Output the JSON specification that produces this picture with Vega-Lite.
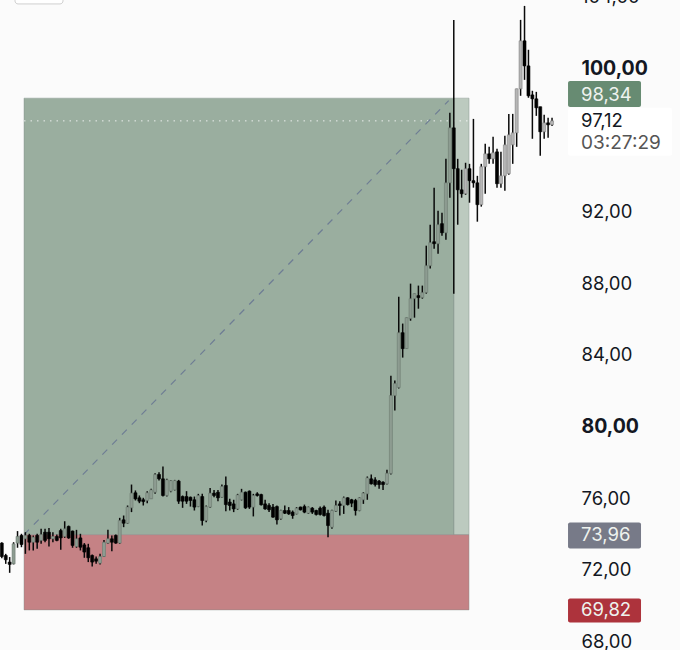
{"$schema":"https://vega.github.io/schema/vega-lite/v6.json",
"width":680,"height":650,"autosize":"none","padding":0,"background":"#fbfbfb",
"config":{"view":{"stroke":null}},
"resolve":{"scale":{"color":"independent"}},
"datasets":{"candles":[
{"i":0,"o":73.49,"h":73.54,"l":72.65,"c":72.74},
{"i":1,"o":72.80,"h":72.89,"l":72.33,"c":72.56},
{"i":2,"o":72.43,"h":72.71,"l":71.83,"c":72.30},
{"i":3,"o":72.33,"h":73.54,"l":72.30,"c":73.45},
{"i":4,"o":73.49,"h":74.16,"l":73.23,"c":73.86},
{"i":5,"o":73.92,"h":74.01,"l":73.26,"c":73.41},
{"i":6,"o":73.73,"h":74.10,"l":72.89,"c":73.92},
{"i":7,"o":73.92,"h":74.01,"l":73.08,"c":73.54},
{"i":8,"o":73.54,"h":73.92,"l":73.08,"c":73.82},
{"i":9,"o":73.92,"h":74.01,"l":73.17,"c":73.54},
{"i":10,"o":73.64,"h":74.29,"l":73.45,"c":73.97},
{"i":11,"o":74.10,"h":74.29,"l":73.54,"c":73.64},
{"i":12,"o":74.10,"h":74.34,"l":73.30,"c":73.73},
{"i":13,"o":73.73,"h":74.10,"l":73.54,"c":73.86},
{"i":14,"o":73.86,"h":73.97,"l":73.60,"c":73.64},
{"i":15,"o":74.19,"h":74.29,"l":73.12,"c":73.78},
{"i":16,"o":73.86,"h":74.71,"l":73.78,"c":74.29},
{"i":17,"o":74.42,"h":74.47,"l":73.73,"c":73.78},
{"i":18,"o":74.16,"h":74.19,"l":73.23,"c":73.36},
{"i":19,"o":73.30,"h":74.23,"l":73.23,"c":73.73},
{"i":20,"o":73.78,"h":74.01,"l":73.08,"c":73.26},
{"i":21,"o":73.39,"h":73.49,"l":72.67,"c":72.99},
{"i":22,"o":73.23,"h":73.45,"l":72.43,"c":72.67},
{"i":23,"o":72.80,"h":72.85,"l":72.19,"c":72.43},
{"i":24,"o":72.61,"h":72.74,"l":72.33,"c":72.48},
{"i":25,"o":72.37,"h":72.89,"l":72.30,"c":72.74},
{"i":26,"o":72.74,"h":73.67,"l":72.71,"c":73.54},
{"i":27,"o":73.49,"h":74.23,"l":73.45,"c":73.73},
{"i":28,"o":73.73,"h":73.92,"l":73.04,"c":73.54},
{"i":29,"o":73.92,"h":73.97,"l":73.45,"c":73.49},
{"i":30,"o":73.49,"h":74.90,"l":73.45,"c":74.75},
{"i":31,"o":74.79,"h":75.03,"l":74.38,"c":74.60},
{"i":32,"o":74.60,"h":75.59,"l":74.57,"c":75.50},
{"i":33,"o":75.46,"h":76.76,"l":75.22,"c":76.28},
{"i":34,"o":76.30,"h":76.43,"l":75.87,"c":75.96},
{"i":35,"o":76.02,"h":76.15,"l":75.72,"c":75.83},
{"i":36,"o":75.91,"h":76.02,"l":75.59,"c":75.81},
{"i":37,"o":75.87,"h":76.39,"l":75.72,"c":76.30},
{"i":38,"o":75.96,"h":76.52,"l":75.96,"c":76.46},
{"i":39,"o":76.33,"h":77.39,"l":76.24,"c":77.32},
{"i":40,"o":77.32,"h":77.45,"l":76.98,"c":77.08},
{"i":41,"o":77.08,"h":77.77,"l":76.09,"c":76.15},
{"i":42,"o":76.15,"h":77.08,"l":76.09,"c":77.02},
{"i":43,"o":76.39,"h":77.02,"l":76.33,"c":76.98},
{"i":44,"o":76.46,"h":77.02,"l":76.43,"c":76.98},
{"i":45,"o":76.95,"h":77.02,"l":75.68,"c":75.83},
{"i":46,"o":76.09,"h":76.15,"l":75.46,"c":75.83},
{"i":47,"o":76.09,"h":76.39,"l":75.68,"c":75.83},
{"i":48,"o":76.05,"h":76.09,"l":75.53,"c":75.87},
{"i":49,"o":75.91,"h":76.09,"l":75.31,"c":75.50},
{"i":50,"o":75.53,"h":76.24,"l":75.50,"c":76.15},
{"i":51,"o":76.09,"h":76.24,"l":74.47,"c":74.75},
{"i":52,"o":74.75,"h":75.59,"l":74.66,"c":75.53},
{"i":53,"o":75.50,"h":76.57,"l":75.46,"c":76.28},
{"i":54,"o":76.28,"h":76.46,"l":76.05,"c":76.15},
{"i":55,"o":76.33,"h":76.46,"l":75.83,"c":76.02},
{"i":56,"o":76.05,"h":76.76,"l":76.02,"c":76.65},
{"i":57,"o":76.71,"h":77.21,"l":75.27,"c":75.64},
{"i":58,"o":75.78,"h":75.96,"l":75.31,"c":75.59},
{"i":59,"o":75.68,"h":75.91,"l":75.22,"c":75.40},
{"i":60,"o":75.40,"h":76.24,"l":75.35,"c":76.18},
{"i":61,"o":75.91,"h":76.52,"l":75.87,"c":76.33},
{"i":62,"o":76.33,"h":76.37,"l":75.40,"c":75.46},
{"i":63,"o":76.39,"h":76.43,"l":75.40,"c":75.50},
{"i":64,"o":75.50,"h":76.24,"l":74.98,"c":76.15},
{"i":65,"o":76.24,"h":76.33,"l":76.09,"c":76.15},
{"i":66,"o":76.20,"h":76.24,"l":75.59,"c":75.63},
{"i":67,"o":75.68,"h":75.91,"l":75.35,"c":75.40},
{"i":68,"o":75.59,"h":75.72,"l":75.22,"c":75.35},
{"i":69,"o":75.50,"h":75.68,"l":74.90,"c":74.94},
{"i":70,"o":75.53,"h":75.59,"l":74.53,"c":74.79},
{"i":71,"o":74.85,"h":75.35,"l":74.79,"c":75.31},
{"i":72,"o":75.31,"h":75.59,"l":75.12,"c":75.16},
{"i":73,"o":75.31,"h":75.50,"l":75.07,"c":75.12},
{"i":74,"o":75.22,"h":75.31,"l":74.85,"c":75.03},
{"i":75,"o":75.12,"h":75.50,"l":75.09,"c":75.44},
{"i":76,"o":75.50,"h":75.53,"l":75.31,"c":75.35},
{"i":77,"o":75.53,"h":75.64,"l":75.16,"c":75.22},
{"i":78,"o":75.16,"h":75.53,"l":75.12,"c":75.50},
{"i":79,"o":75.44,"h":75.50,"l":75.12,"c":75.22},
{"i":80,"o":75.31,"h":75.35,"l":75.03,"c":75.09},
{"i":81,"o":75.44,"h":75.53,"l":75.03,"c":75.09},
{"i":82,"o":75.50,"h":75.59,"l":74.98,"c":75.03},
{"i":83,"o":75.16,"h":75.35,"l":73.82,"c":74.47},
{"i":84,"o":74.38,"h":75.35,"l":74.29,"c":75.31},
{"i":85,"o":75.27,"h":75.87,"l":75.22,"c":75.59},
{"i":86,"o":75.68,"h":75.83,"l":75.03,"c":75.59},
{"i":87,"o":75.59,"h":76.09,"l":75.12,"c":76.02},
{"i":88,"o":76.02,"h":76.05,"l":75.59,"c":75.64},
{"i":89,"o":75.91,"h":75.96,"l":75.50,"c":75.72},
{"i":90,"o":75.87,"h":75.96,"l":75.03,"c":75.31},
{"i":91,"o":75.31,"h":76.05,"l":75.27,"c":76.02},
{"i":92,"o":75.91,"h":76.33,"l":75.68,"c":76.28},
{"i":93,"o":76.24,"h":77.21,"l":75.91,"c":77.13},
{"i":94,"o":77.08,"h":77.32,"l":76.76,"c":76.80},
{"i":95,"o":77.02,"h":77.17,"l":76.65,"c":76.76},
{"i":96,"o":76.95,"h":77.02,"l":76.52,"c":76.76},
{"i":97,"o":76.89,"h":76.95,"l":76.46,"c":76.76},
{"i":98,"o":76.80,"h":77.58,"l":76.76,"c":77.39},
{"i":99,"o":77.38,"h":82.84,"l":77.32,"c":81.73},
{"i":100,"o":81.73,"h":82.57,"l":80.89,"c":82.40},
{"i":101,"o":82.18,"h":87.25,"l":82.12,"c":85.24},
{"i":102,"o":85.24,"h":85.75,"l":83.85,"c":84.35},
{"i":103,"o":84.35,"h":86.08,"l":84.35,"c":86.08},
{"i":104,"o":86.03,"h":87.98,"l":85.91,"c":87.14},
{"i":105,"o":87.14,"h":87.42,"l":86.08,"c":87.42},
{"i":106,"o":87.31,"h":87.87,"l":86.58,"c":87.20},
{"i":107,"o":87.20,"h":87.87,"l":87.14,"c":87.48},
{"i":108,"o":87.48,"h":90.10,"l":87.42,"c":88.98},
{"i":109,"o":88.98,"h":91.27,"l":88.82,"c":90.27},
{"i":110,"o":90.32,"h":93.33,"l":89.93,"c":90.21},
{"i":111,"o":90.21,"h":92.05,"l":89.65,"c":91.27},
{"i":112,"o":91.33,"h":91.94,"l":90.66,"c":90.82},
{"i":113,"o":90.82,"h":94.95,"l":90.43,"c":93.61},
{"i":114,"o":93.61,"h":97.52,"l":92.78,"c":96.68},
{"i":115,"o":96.68,"h":102.71,"l":87.42,"c":94.40},
{"i":116,"o":94.40,"h":94.95,"l":91.27,"c":93.22},
{"i":117,"o":93.22,"h":94.34,"l":92.78,"c":93.00},
{"i":118,"o":93.00,"h":94.73,"l":92.94,"c":94.40},
{"i":119,"o":94.40,"h":94.67,"l":92.50,"c":93.73},
{"i":120,"o":93.73,"h":97.18,"l":93.34,"c":93.61},
{"i":121,"o":93.61,"h":94.00,"l":91.44,"c":92.39},
{"i":122,"o":92.39,"h":94.67,"l":92.28,"c":94.51},
{"i":123,"o":94.51,"h":95.79,"l":93.00,"c":95.23},
{"i":124,"o":95.23,"h":95.62,"l":94.67,"c":94.95},
{"i":125,"o":94.95,"h":96.18,"l":94.67,"c":95.29},
{"i":126,"o":95.34,"h":95.51,"l":93.34,"c":93.56},
{"i":127,"o":93.56,"h":95.34,"l":93.34,"c":94.00},
{"i":128,"o":94.00,"h":96.24,"l":93.17,"c":95.73},
{"i":129,"o":94.12,"h":97.46,"l":94.06,"c":96.29},
{"i":130,"o":95.73,"h":97.46,"l":94.67,"c":96.40},
{"i":131,"o":96.40,"h":98.86,"l":95.62,"c":98.86},
{"i":132,"o":98.86,"h":102.71,"l":98.47,"c":101.54},
{"i":133,"o":101.54,"h":103.49,"l":99.36,"c":100.14},
{"i":134,"o":100.14,"h":101.04,"l":98.36,"c":98.47},
{"i":135,"o":98.52,"h":98.75,"l":96.07,"c":98.30},
{"i":136,"o":98.30,"h":98.69,"l":97.35,"c":97.80},
{"i":137,"o":97.86,"h":97.86,"l":95.12,"c":96.46},
{"i":138,"o":96.46,"h":97.41,"l":96.07,"c":96.96},
{"i":139,"o":96.96,"h":97.24,"l":96.13,"c":96.85},
{"i":140,"o":96.85,"h":97.24,"l":96.79,"c":97.07}
]},
"encoding":{
  "x":{"field":"i","type":"quantitative","axis":null,"scale":{"domain":[-0.46,172.56],"nice":false,"zero":false,"padding":0}}
},
"layer":[
{"data":{"values":[
  {"zone":"profit","i":5.65,"i2":115.06,"top":98.34,"bottom":73.96},
  {"zone":"strip","i":115.06,"i2":118.88,"top":98.34,"bottom":73.96},
  {"zone":"loss","i":5.65,"i2":118.88,"top":73.96,"bottom":69.76}
 ]},
 "mark":{"type":"rect","stroke":"#7f8d8a","strokeWidth":0.6,"strokeOpacity":0.7},
 "encoding":{
  "x2":{"field":"i2"},
  "y":{"field":"top","type":"quantitative",
   "scale":{"domain":[67.52,103.82],"nice":false,"zero":false,"padding":0},
   "axis":{"orient":"right","offset":-99,"values":[68,72,76,80,84,88,92,100],
    "title":null,"domain":false,"ticks":false,"grid":false,"labelPadding":0,"labelOverlap":false,"labelBound":false,"labelFlush":false,
    "labelFont":"Inter","labelColor":"#131722","labelAlign":"left",
    "labelFontSize":{"condition":{"test":"datum.value==100||datum.value==80","value":19.5},"value":18.5},
    "labelFontWeight":{"condition":{"test":"datum.value==100||datum.value==80","value":"bold"},"value":"normal"},
    "labelExpr":"replace(format(datum.value,'.2f'),'.',',')"}},
  "y2":{"field":"bottom"},
  "color":{"field":"zone","type":"nominal","legend":null,"scale":{"domain":["profit","strip","loss"],"range":["#9aae9f","#bccabf","#c58285"]}}
 }},
{"data":{"values":[{"i":5.65,"i2":118.88,"price":97.07}]},
 "mark":{"type":"rule","color":"#ffffff","opacity":0.8,"strokeWidth":1,"strokeDash":[1.5,5]},
 "encoding":{"x2":{"field":"i2"},"y":{"field":"price","type":"quantitative"}}},
{"data":{"values":[{"i":5.65,"price":73.96},{"i":113.7,"price":98.2}]},
 "mark":{"type":"line","color":"#6e7d94","strokeWidth":1.2,"strokeDash":[7,7]},
 "encoding":{"y":{"field":"price","type":"quantitative"}}},
{"data":{"name":"candles"},
 "mark":{"type":"rule","color":"#0a0a0a","strokeWidth":1.5},
 "encoding":{"y":{"field":"l","type":"quantitative"},"y2":{"field":"h"}}},
{"data":{"name":"candles"},
 "mark":{"type":"bar","size":3,"orient":"vertical","strokeWidth":0.6},
 "encoding":{"y":{"field":"o","type":"quantitative"},"y2":{"field":"c"},
  "color":{"condition":[{"test":"datum.c>datum.o&&datum.i<115","value":"#8d9c91"},{"test":"datum.c>datum.o","value":"#b6b6b6"}],"value":"#000000"},
  "stroke":{"condition":[{"test":"datum.c>datum.o&&datum.i<115","value":"#6c7a70"},{"test":"datum.c>datum.o","value":"#808080"}],"value":"#000000"}}},
{"data":{"values":[
  {"kind":"price","i":144.07,"i2":170.53,"top":97.8,"bottom":95.12},
  {"kind":"target","i":144.07,"i2":162.64,"top":99.3,"bottom":97.85},
  {"kind":"entry","i":144.07,"i2":162.64,"top":74.64,"bottom":73.19},
  {"kind":"stop","i":144.07,"i2":162.64,"top":70.4,"bottom":69.06}
 ]},
 "mark":{"type":"rect","cornerRadius":2},
 "encoding":{"x2":{"field":"i2"},"y":{"field":"top","type":"quantitative"},"y2":{"field":"bottom"},
  "color":{"field":"kind","type":"nominal","legend":null,"scale":{"domain":["price","target","entry","stop"],"range":["#ffffff","#678b72","#777a88","#ad333c"]}}}},
{"data":{"values":[{"i":3.36,"i2":15.57,"top":105,"bottom":103.6}]},
 "mark":{"type":"rect","fill":"#ffffff","stroke":"#cfcfcf","strokeWidth":1,"cornerRadius":3},
 "encoding":{"x2":{"field":"i2"},"y":{"field":"top","type":"quantitative"},"y2":{"field":"bottom"}}},
{"data":{"values":[
  {"i":147.38,"price":104,"label":"104,00","kind":"last"},
  {"i":147.38,"price":98.52,"label":"98,34","kind":"tag"},
  {"i":147.38,"price":73.92,"label":"73,96","kind":"tag"},
  {"i":147.38,"price":69.73,"label":"69,82","kind":"tag"},
  {"i":147.38,"price":97.07,"label":"97,12","kind":"last"},
  {"i":147.38,"price":95.85,"label":"03:27:29","kind":"timer"}
 ]},
 "mark":{"type":"text","align":"left","baseline":"middle","font":"Inter"},
 "encoding":{"y":{"field":"price","type":"quantitative"},"text":{"field":"label"},
  "size":{"condition":{"test":"datum.kind=='timer'","value":19},"value":18.5},
  "color":{"field":"kind","type":"nominal","legend":null,"scale":{"domain":["tag","last","timer"],"range":["#eef2ee","#131722","#555555"]}}}}
]}
